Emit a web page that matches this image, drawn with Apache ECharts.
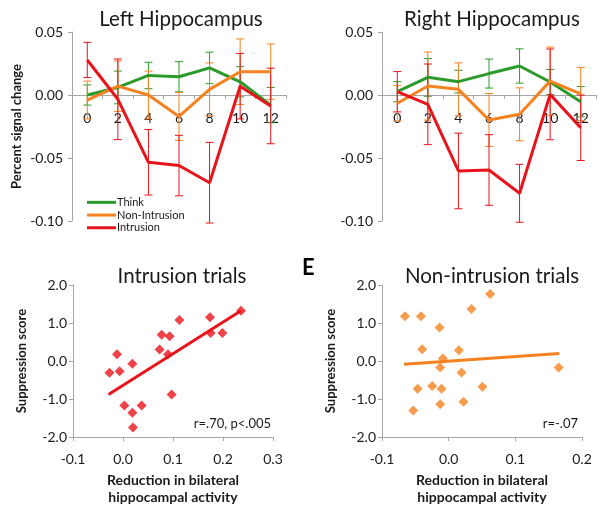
<!DOCTYPE html>
<html><head><meta charset="utf-8">
<script src="https://cdn.jsdelivr.net/npm/echarts@6/dist/echarts.min.js"></script>
<style>html,body{margin:0;padding:0;background:#fff}#c{width:604px;height:513px}</style>
</head><body><div id="c"></div>
<script>
// ---- Data ----
const cats = ['0','2','4','6','8','10','12'];
const seriesNames = ['Think','Non-Intrusion','Intrusion'];

const leftThink     = [0.000, 0.006, 0.0155, 0.0145, 0.0215, 0.0105, -0.008];
const leftThinkErr  = [0.008, 0.013, 0.0105, 0.012, 0.0125, 0.012, 0.014];
const leftNon       = [-0.004, 0.007, 0.000, -0.017, 0.0045, 0.0185, 0.0185];
const leftNonErr    = [0.015, 0.020, 0.019, 0.019, 0.021, 0.026, 0.022];
const leftIntr      = [0.0278, -0.0034, -0.0534, -0.056, -0.0696, 0.007, -0.0087];
const leftIntrErr   = [0.014, 0.032, 0.026, 0.024, 0.032, 0.026, 0.030];

const rightThink    = [0.0026, 0.014, 0.0106, 0.017, 0.023, 0.0103, -0.0053];
const rightThinkErr = [0.008, 0.015, 0.009, 0.0115, 0.0136, 0.010, 0.012];
const rightNon      = [-0.0066, 0.0071, 0.0045, -0.0198, -0.0153, 0.011, 0.0008];
const rightNonErr   = [0.014, 0.027, 0.021, 0.021, 0.021, 0.027, 0.021];
const rightIntr     = [0.0026, -0.0074, -0.0603, -0.0595, -0.078, 0.0005, -0.026];
const rightIntrErr  = [0.016, 0.032, 0.030, 0.028, 0.023, 0.036, 0.026];

const intrX = [-0.027, -0.012, -0.0067, 0.0027, 0.0187, 0.0187, 0.020, 0.0373, 0.0733, 0.0773, 0.090, 0.0933, 0.0973, 0.1127, 0.174, 0.1753, 0.1987, 0.236];
const intrY = [-0.31, 0.18, -0.27, -1.17, -0.07, -1.36, -1.75, -1.17, 0.30, 0.69, 0.18, 0.65, -0.88, 1.08, 1.15, 0.74, 0.74, 1.32];
const intrTrendX = [-0.029, 0.236];
const intrTrendY = [-0.88, 1.32];

const nonX = [-0.0656, -0.0416, -0.0137, -0.0396, -0.0087, 0.0153, 0.0342, 0.0622, 0.165, -0.0127, 0.0193, -0.0466, -0.0247, -0.0107, 0.0507, -0.0127, 0.0222, -0.0531];
const nonY = [1.18, 1.18, 0.88, 0.31, 0.065, 0.285, 1.37, 1.76, -0.17, -0.17, -0.30, -0.73, -0.66, -0.73, -0.68, -1.14, -1.07, -1.30];
const nonTrendX = [-0.067, 0.166];
const nonTrendY = [-0.085, 0.197];

// ---- Styles ----
const GREEN = '#2b9a2b', ORANGE = '#f58220', RED = '#e8141c';
const AX = '#a6a6a6', TXT = '#1a1a1a';
const FONT = 'Lato, "Open Sans", sans-serif';
const TOP_GRID_H = 189;
const Y_MIN = -0.10, Y_MAX = 0.05;

const chart = echarts.init(document.getElementById('c'), null, {renderer: 'canvas'});

function errData(mean, err) { return mean.map((m, i) => [i, m - err[i], m + err[i]]); }
function errSeries(mean, err, color, xi, yi) {
  return {
    type: 'custom', xAxisIndex: xi, yAxisIndex: yi, z: 1, silent: true,
    data: errData(mean, err),
    renderItem: function (params, api) {
      const lo = api.coord([api.value(0), api.value(1)]);
      const hi = api.coord([api.value(0), api.value(2)]);
      const w = 4;
      const st = {stroke: color, lineWidth: 1};
      return {type: 'group', children: [
        {type: 'line', shape: {x1: lo[0], y1: lo[1], x2: hi[0], y2: hi[1]}, style: st},
        {type: 'line', shape: {x1: lo[0]-w, y1: lo[1], x2: lo[0]+w, y2: lo[1]}, style: st},
        {type: 'line', shape: {x1: hi[0]-w, y1: hi[1], x2: hi[0]+w, y2: hi[1]}, style: st}
      ]};
    }
  };
}
function lineSeries(name, data, color, xi, yi, z) {
  return {name: name, type: 'line', xAxisIndex: xi, yAxisIndex: yi, data: data, symbol: 'none',
    lineStyle: {color: color, width: 3}, itemStyle: {color: color}, z: z, silent: true};
}
function catX(gi) {
  // place the category axis at value 0 of the y scale
  const zeroOffset = -TOP_GRID_H * (0 - Y_MIN) / (Y_MAX - Y_MIN);
  return {type: 'category', gridIndex: gi, data: cats, boundaryGap: true, position: 'bottom', offset: zeroOffset,
    axisLine: {onZero: false, lineStyle: {color: AX, width: 1}},
    axisTick: {show: true, length: 4, lineStyle: {color: AX}},
    axisLabel: {color: TXT, fontSize: 14, fontFamily: FONT, margin: 16, interval: 0},
    splitLine: {show: false}};
}
function sigY(gi, name) {
  return {type: 'value', gridIndex: gi, min: Y_MIN, max: Y_MAX, interval: 0.05,
    name: name || '', nameLocation: 'middle', nameGap: 49,
    nameTextStyle: {color: TXT, fontSize: 13, fontWeight: 'bold', fontFamily: FONT},
    axisLine: {show: true, onZero: false, lineStyle: {color: AX}},
    axisTick: {show: true, length: 4, lineStyle: {color: AX}},
    axisLabel: {color: TXT, fontSize: 14, fontFamily: FONT, margin: 9, formatter: v => v.toFixed(2)},
    splitLine: {show: false}};
}
function scX(gi, max) {
  return {type: 'value', gridIndex: gi, min: -0.1, max: max, interval: 0.1,
    name: 'Reduction in bilateral\nhippocampal activity', nameLocation: 'middle', nameGap: 35,
    nameTextStyle: {color: TXT, fontSize: 14, fontWeight: 'bold', fontFamily: FONT, lineHeight: 17},
    axisLine: {onZero: false, lineStyle: {color: AX}},
    axisTick: {show: true, length: 4, lineStyle: {color: AX}},
    axisLabel: {color: TXT, fontSize: 14, fontFamily: FONT, margin: 15, formatter: v => v.toFixed(1)},
    splitLine: {show: false}};
}
function scY(gi) {
  return {type: 'value', gridIndex: gi, min: -2, max: 2, interval: 1,
    name: 'Suppression score', nameLocation: 'middle', nameGap: 45,
    nameTextStyle: {color: TXT, fontSize: 13, fontWeight: 'bold', fontFamily: FONT},
    axisLine: {show: true, onZero: false, lineStyle: {color: AX}},
    axisTick: {show: true, length: 4, lineStyle: {color: AX}},
    axisLabel: {color: TXT, fontSize: 14, fontFamily: FONT, margin: 6, formatter: v => v.toFixed(1)},
    splitLine: {show: false}};
}
function pairs(xs, ys) { return xs.map((x, i) => [x, ys[i]]); }

const titleStyle = {fontSize: 20.5, fontWeight: 'normal', color: TXT, fontFamily: FONT};
const gridBase = {containLabel: false, outerBoundsMode: 'none'};
const option = {
  animation: false,
  backgroundColor: '#fff',
  textStyle: {fontFamily: FONT},
  title: [
    {text: 'Left Hippocampus', left: 176, top: 4, textAlign: 'center', textStyle: titleStyle},
    {text: 'Right Hippocampus', left: 487, top: 4, textAlign: 'center', textStyle: titleStyle},
    {text: 'Intrusion trials', left: 177, top: 261, textAlign: 'center', textStyle: titleStyle},
    {text: 'Non-intrusion trials', left: 487, top: 261, textAlign: 'center', textStyle: titleStyle}
  ],
  legend: {
    orient: 'vertical', left: 82, top: 191, itemWidth: 29, itemHeight: 3, itemGap: 0,
    icon: 'rect', data: seriesNames, selectedMode: false,
    textStyle: {color: TXT, fontSize: 11, fontFamily: FONT, lineHeight: 12.7, padding: [0, 0, 0, -4]}
  },
  grid: [
    Object.assign({left: 72, top: 32, width: 214, height: TOP_GRID_H}, gridBase),
    Object.assign({left: 382, top: 32, width: 214, height: TOP_GRID_H}, gridBase),
    Object.assign({left: 73, top: 285, width: 200, height: 152}, gridBase),
    Object.assign({left: 382, top: 285, width: 200, height: 152}, gridBase)
  ],
  xAxis: [catX(0), catX(1), scX(2, 0.3), scX(3, 0.2)],
  yAxis: [sigY(0, 'Percent signal change'), sigY(1), scY(2), scY(3)],
  graphic: [
    {type: 'text', left: 302, top: 257, style: {text: 'E', font: 'bold 22px ' + FONT, fill: '#000'}},
    {type: 'text', right: 604 - 271, top: 417, style: {text: 'r=.70, p<.005', font: '13px ' + FONT, fill: TXT}},
    {type: 'text', right: 604 - 578, top: 417, style: {text: 'r=-.07', font: '13px ' + FONT, fill: TXT}}
  ],
  series: [
    errSeries(leftThink, leftThinkErr, GREEN, 0, 0),
    errSeries(leftNon, leftNonErr, ORANGE, 0, 0),
    errSeries(leftIntr, leftIntrErr, RED, 0, 0),
    lineSeries('Think', leftThink, GREEN, 0, 0, 3),
    lineSeries('Non-Intrusion', leftNon, ORANGE, 0, 0, 4),
    lineSeries('Intrusion', leftIntr, RED, 0, 0, 5),
    errSeries(rightThink, rightThinkErr, GREEN, 1, 1),
    errSeries(rightNon, rightNonErr, ORANGE, 1, 1),
    errSeries(rightIntr, rightIntrErr, RED, 1, 1),
    lineSeries('Think', rightThink, GREEN, 1, 1, 3),
    lineSeries('Non-Intrusion', rightNon, ORANGE, 1, 1, 4),
    lineSeries('Intrusion', rightIntr, RED, 1, 1, 5),
    {type: 'scatter', xAxisIndex: 2, yAxisIndex: 2, data: pairs(intrX, intrY), symbol: 'diamond', symbolSize: 10, itemStyle: {color: RED}, silent: true},
    {type: 'line', xAxisIndex: 2, yAxisIndex: 2, data: pairs(intrTrendX, intrTrendY), symbol: 'none', lineStyle: {color: RED, width: 3}, silent: true},
    {type: 'scatter', xAxisIndex: 3, yAxisIndex: 3, data: pairs(nonX, nonY), symbol: 'diamond', symbolSize: 10, itemStyle: {color: ORANGE}, silent: true},
    {type: 'line', xAxisIndex: 3, yAxisIndex: 3, data: pairs(nonTrendX, nonTrendY), symbol: 'none', lineStyle: {color: ORANGE, width: 3}, silent: true}
  ]
};
chart.setOption(option);
</script></body></html>
